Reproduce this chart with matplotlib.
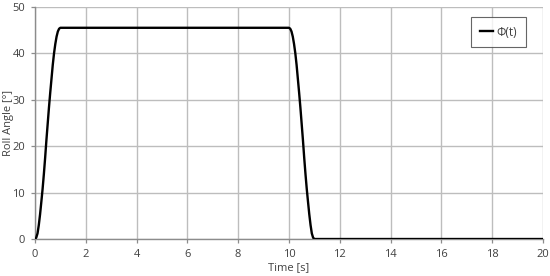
import matplotlib.pyplot as plt

# rise 0..1 s
t_rise = [0.0, 0.05, 0.1, 0.15, 0.2, 0.25, 0.3, 0.35, 0.4, 0.45, 0.5,
          0.55, 0.6, 0.65, 0.7, 0.75, 0.8, 0.85, 0.9, 0.95, 1.0]
phi_rise = [0.0, 0.3, 1.2, 3.0, 5.3, 8.0, 10.8, 14.0, 17.5, 21.3, 24.8,
            28.3, 31.5, 34.5, 37.5, 40.0, 42.0, 43.6, 44.7, 45.3, 45.5]
# fall 10..11 s
t_fall = [10.0, 10.05, 10.1, 10.15, 10.2, 10.25, 10.3, 10.35, 10.4, 10.45, 10.5,
          10.55, 10.6, 10.65, 10.7, 10.75, 10.8, 10.85, 10.9, 10.95, 11.0]
phi_fall = [45.5, 45.3, 44.7, 43.6, 42.0, 40.0, 37.5, 34.5, 31.5, 28.3, 24.8,
            21.3, 17.5, 14.0, 10.8, 8.0, 5.3, 3.0, 1.2, 0.3, 0.0]
t_end = [11.0, 20.0]
phi_end = [0.0, 0.0]

t = t_rise + t_fall + t_end
phi = phi_rise + phi_fall + phi_end

plt.rcParams['font.family'] = ['Open Sans', 'DejaVu Sans']

fig = plt.figure(figsize=(5.5, 2.76), dpi=100)
ax = fig.add_axes([0.0636, 0.134, 0.9236, 0.841])

ax.plot(t, phi, color='black', lw=1.7, label='Φ(t)', zorder=3)

ax.set_xlim(0, 20)
ax.set_ylim(0, 50)
ax.set_xticks(range(0, 21, 2))
ax.set_yticks(range(0, 51, 10))
ax.grid(True, color='#bdbdbd', lw=1.0)
ax.set_axisbelow(True)

for s in ['top', 'right']:
    ax.spines[s].set_visible(False)
for s in ['left', 'bottom']:
    ax.spines[s].set_color('#8c8c8c')
    ax.spines[s].set_linewidth(1.0)

ax.tick_params(direction='out', length=3, width=0.9, color='#8c8c8c',
               labelsize=8, labelcolor='#404040', pad=4)

ax.set_xlabel('Time [s]', fontsize=8, color='#404040', labelpad=2)
ax.set_ylabel('Roll Angle [°]', fontsize=8, color='#404040')
# ylabel anchor is its right edge once rotated
ax.yaxis.set_label_coords(-0.042, 0.5)

leg = ax.legend(loc='upper right', bbox_to_anchor=(0.966, 0.958), fontsize=8.5,
                frameon=True, fancybox=False, handlelength=1.1,
                handletextpad=0.3, borderpad=0.75, borderaxespad=0)
leg.get_frame().set_edgecolor('#404040')
leg.get_frame().set_linewidth(0.8)
for text in leg.get_texts():
    text.set_color('#404040')

fig.savefig('out.png', dpi=100)
